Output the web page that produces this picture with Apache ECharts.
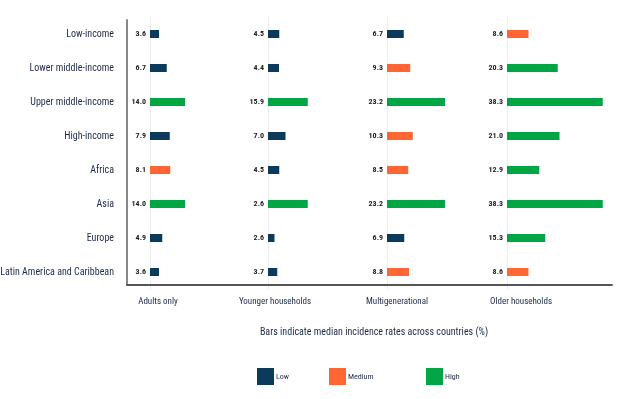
<!DOCTYPE html>
<html>
<head>
<meta charset="UTF-8">
<title>Median incidence rates</title>
<script src="https://cdn.jsdelivr.net/npm/echarts@6/dist/echarts.min.js"></script>
<style>
  html, body { margin: 0; padding: 0; background: #fff; }
  #main { width: 627px; height: 399px; }
</style>
</head>
<body>
<div id="main"></div>
<script>
var rows = ['Low-income', 'Lower middle-income', 'Upper middle-income', 'High-income',
            'Africa', 'Asia', 'Europe', 'Latin America and Caribbean'];
var panels = ['Adults only', 'Younger households', 'Multigenerational', 'Older households'];
var levelNames = ['Low', 'Medium', 'High'];

// bar lengths
var adultsVals = [3.6, 6.7, 14.0, 7.9, 8.1, 14.0, 4.9, 3.6];
var youngerVals = [4.5, 4.4, 15.9, 7.0, 4.5, 15.9, 2.6, 3.7];
var multiVals = [6.7, 9.3, 23.2, 10.3, 8.5, 23.2, 6.9, 8.8];
var olderVals = [8.6, 20.3, 38.3, 21.0, 12.9, 38.3, 15.3, 8.6];

// labels as printed (Asia / younger is printed 2.6 in the original)
var adultsText = ['3.6', '6.7', '14.0', '7.9', '8.1', '14.0', '4.9', '3.6'];
var youngerText = ['4.5', '4.4', '15.9', '7.0', '4.5', '2.6', '2.6', '3.7'];
var multiText = ['6.7', '9.3', '23.2', '10.3', '8.5', '23.2', '6.9', '8.8'];
var olderText = ['8.6', '20.3', '38.3', '21.0', '12.9', '38.3', '15.3', '8.6'];

var adultsLvl = ['Low', 'Low', 'High', 'Low', 'Medium', 'High', 'Low', 'Low'];
var youngerLvl = ['Low', 'Low', 'High', 'Low', 'Low', 'High', 'Low', 'Low'];
var multiLvl = ['Low', 'Medium', 'High', 'Medium', 'Medium', 'High', 'Low', 'Medium'];
var olderLvl = ['Medium', 'High', 'High', 'High', 'High', 'High', 'High', 'Medium'];

var colors = { 'Low': '#0b3a5b', 'Medium': '#ff6633', 'High': '#00a644' };
var font = "'Roboto Condensed', 'Liberation Sans', sans-serif";
var navy = '#1c2b48';

var vals = [adultsVals, youngerVals, multiVals, olderVals];
var texts = [adultsText, youngerText, multiText, olderText];
var lvls = [adultsLvl, youngerLvl, multiLvl, olderLvl];
var panelLeft = [150, 268, 387, 507];
var titleX = [153, 270, 392, 516];

var grid = [], xAxis = [], yAxis = [], series = [], title = [];

panels.forEach(function (p, i) {
    grid.push({ left: panelLeft[i], width: 118, top: 17, bottom: 399 - 289, outerBoundsMode: 'none' });
    xAxis.push({
        type: 'value', gridIndex: i, min: 0, max: 47.2,
        show: false
    });
    yAxis.push({
        type: 'category', gridIndex: i, data: rows, inverse: true,
        axisLine: { show: true, lineStyle: { color: '#ececec', width: 1 } },
        axisTick: { show: false },
        axisLabel: i === 0 ? {
            show: true, margin: 36, fontFamily: font, fontSize: 10, color: navy
        } : { show: false },
        splitLine: { show: false }
    });
    levelNames.forEach(function (lv) {
        series.push({
            name: lv,
            type: 'bar',
            xAxisIndex: i, yAxisIndex: i,
            stack: 'p' + i,
            barWidth: 8,
            itemStyle: { color: colors[lv] },
            label: {
                show: true, position: 'left', distance: 4,
                fontFamily: font, fontSize: 8, color: '#222', fontWeight: 'bold',
                formatter: function (prm) { return texts[i][prm.dataIndex]; }
            },
            data: vals[i].map(function (v, k) { return lvls[i][k] === lv ? v : '-'; })
        });
    });
    title.push({
        text: p, left: titleX[i], top: 292, textAlign: 'center',
        textStyle: { fontFamily: font, fontSize: 9, fontWeight: 'normal', color: navy }
    });
});

// outer frame (left and bottom axis lines)
grid.push({ left: 127, right: 627 - 612, top: 20, bottom: 399 - 285, outerBoundsMode: 'none' });
xAxis.push({
    type: 'value', gridIndex: 4, min: 0, max: 1,
    axisLine: { show: true, lineStyle: { color: '#555', width: 2 } },
    axisTick: { show: false }, axisLabel: { show: false }, splitLine: { show: false }
});
yAxis.push({
    type: 'category', gridIndex: 4, data: rows,
    axisLine: { show: true, lineStyle: { color: '#888', width: 2 } },
    axisTick: { show: false }, axisLabel: { show: false }, splitLine: { show: false }
});

title.push({
    text: 'Bars indicate median incidence rates across countries (%)',
    left: 369, top: 322, textAlign: 'center',
    textStyle: { fontFamily: font, fontSize: 10, fontWeight: 'normal', color: navy }
});

var legendLeft = [257, 329, 426];
var legend = levelNames.map(function (lv, k) {
    return {
        data: [lv], left: legendLeft[k], top: 368, padding: 0,
        itemWidth: 17, itemHeight: 17,
        icon: 'rect',
        textStyle: { fontFamily: font, fontSize: 8, color: navy, padding: [0, 0, 0, -3] },
        selectedMode: false
    };
});

var myChart = echarts.init(document.getElementById('main'));
myChart.setOption({
    animation: false,
    backgroundColor: '#fff',
    title: title,
    legend: legend,
    grid: grid,
    xAxis: xAxis,
    yAxis: yAxis,
    series: series
});
</script>
</body>
</html>
